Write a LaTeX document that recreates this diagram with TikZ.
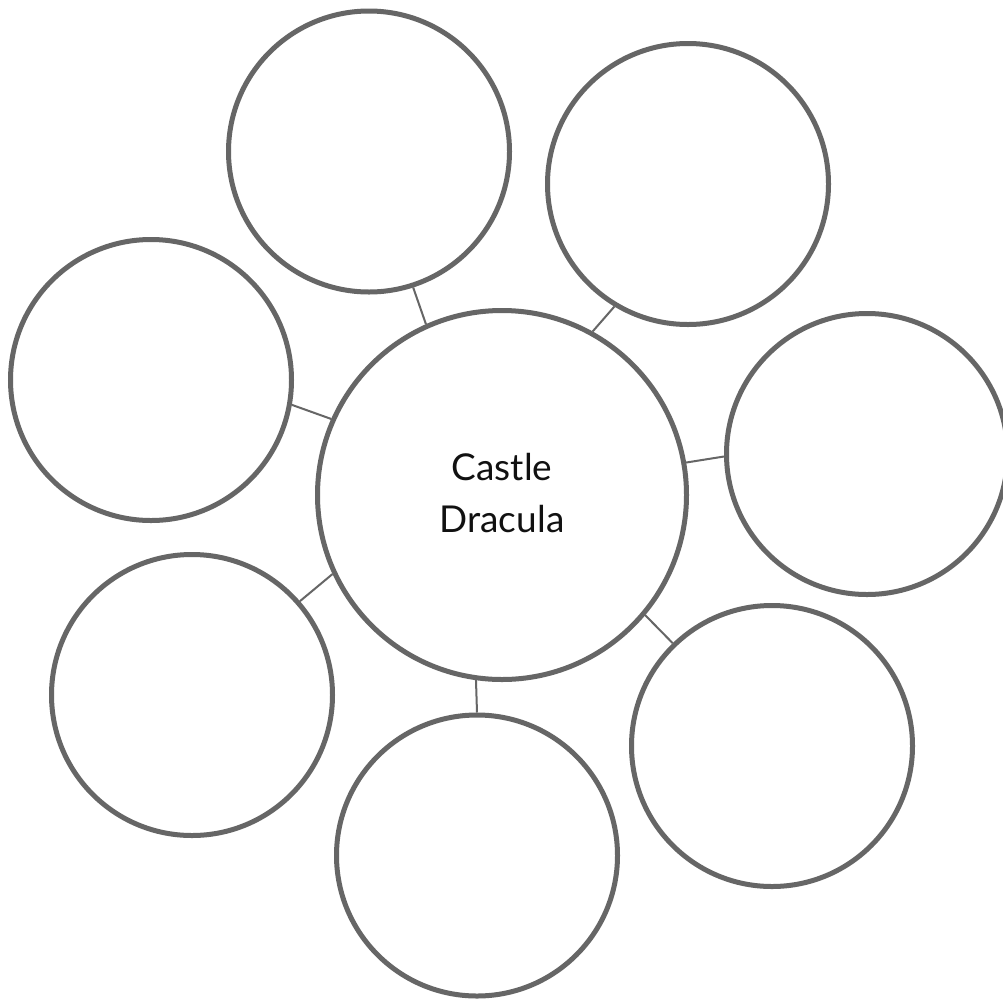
\documentclass[tikz,border=0pt]{standalone}
\usepackage{fontspec}
\setmainfont{Lato}
\definecolor{ring}{HTML}{666666}
\definecolor{ink}{HTML}{111111}
\begin{document}
\begin{tikzpicture}[x=1pt,y=-1pt,
  bubble/.style={circle,draw=ring,line width=5pt,minimum size=281pt,inner sep=0pt,fill=white},
  hub/.style={circle,draw=ring,line width=5pt,minimum size=369pt,inner sep=0pt,fill=white},
  label/.style={text=ink,align=center,font=\fontsize{37}{52}\selectfont,inner sep=0pt},
  link/.style={draw=ring,line width=2pt}]
\useasboundingbox (0,0) rectangle (1003,999);
\fill[white] (0,0) rectangle (1003,999);
\node[hub] (c) at (502,495) {};
\node[label] (t) at (502,493) {Castle\\Dracula};
\node[bubble] (tl) at (369,151.5) {};
\node[bubble] (tr) at (688,184) {};
\node[bubble] (l) at (151,380) {};
\node[bubble] (r) at (867,454) {};
\node[bubble] (bl) at (192,695) {};
\node[bubble] (br) at (772,746) {};
\node[bubble] (b) at (477,855.5) {};
\draw[link] (c.114.4) -- (tl.-72.1);
\draw[link] (c.156.4) -- (l.-10.7);
\draw[link] (c.61.5) -- (tr.-121.8);
\draw[link] (c.10.3) -- (r.181.1);
\draw[link] (c.205.8) -- (bl.41.8);
\draw[link] (c.262.3) -- (b.90.8);
\draw[link] (c.-40.7) -- (br.134.3);
\end{tikzpicture}
\end{document}
